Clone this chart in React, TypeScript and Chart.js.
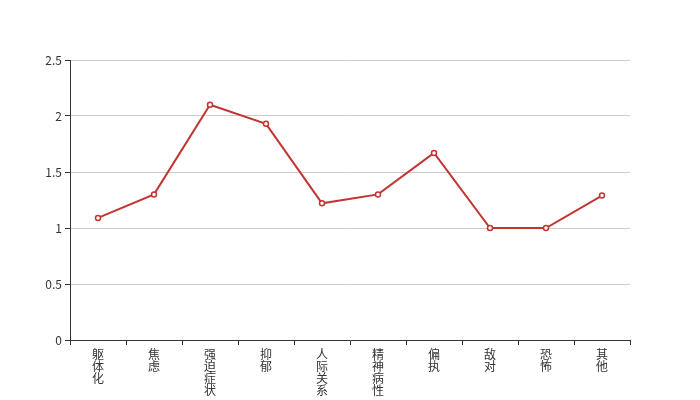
import React, { useEffect, useRef } from "react";
import { Chart, registerables } from "chart.js";

Chart.register(...registerables);

const categories: string[] = ["躯体化", "焦虑", "强迫症状", "抑郁", "人际关系", "精神病性", "偏执", "敌对", "恐怖", "其他"];
const values: number[] = [1.09, 1.3, 2.1, 1.93, 1.22, 1.3, 1.67, 1.0, 1.0, 1.29];
const yMax = 2.5;
const yStep = 0.5;

export default function App() {
  const ref = useRef<HTMLCanvasElement | null>(null);
  useEffect(() => {
    if (!ref.current) return;
    const font = { family: "'Noto Sans CJK SC', 'Noto Sans', sans-serif", size: 12 };
    const chart = new Chart(ref.current, {
      type: "line",
      data: {
        labels: categories.map((c) => c.split("")),
        datasets: [
          {
            data: values,
            borderColor: "#c23531",
            borderWidth: 2,
            pointRadius: 2.5,
            pointBorderWidth: 1.5,
            pointBackgroundColor: "#ffffff",
            pointBorderColor: "#c23531",
            tension: 0,
          },
        ],
      },
      options: {
        animation: false,
        responsive: false,
        layout: { padding: { top: 60, right: 70, left: 0, bottom: 0 } },
        plugins: { legend: { display: false }, tooltip: { enabled: false } },
        scales: {
          x: {
            offset: true,
            border: { color: "#333333", width: 1 },
            grid: { display: true, drawOnChartArea: false, drawTicks: true, tickLength: 5, offset: true, tickColor: "#333333", color: "#333333" },
            ticks: { color: "#333333", font: { ...font, lineHeight: 0.98 }, maxRotation: 0, minRotation: 0, autoSkip: false, padding: 4 },
            afterFit: (s: any) => { s.height = 60; },
          },
          y: {
            min: 0,
            max: yMax,
            border: { color: "#333333", width: 1 },
            grid: { color: "#cccccc", tickColor: "#333333", tickLength: 5, drawTicks: true },
            ticks: { stepSize: yStep, color: "#333333", font, padding: 3, callback: (v: any) => String(Number(v)) },
            afterFit: (s: any) => { s.width = 70; },
          },
        },
      },
    });
    return () => chart.destroy();
  }, []);
  return (
    <div style={{ position: "fixed", left: 0, top: 0, width: 700, height: 400, background: "#ffffff" }}>
      <canvas ref={ref} width={700} height={400} style={{ width: 700, height: 400 }} />
    </div>
  );
}
